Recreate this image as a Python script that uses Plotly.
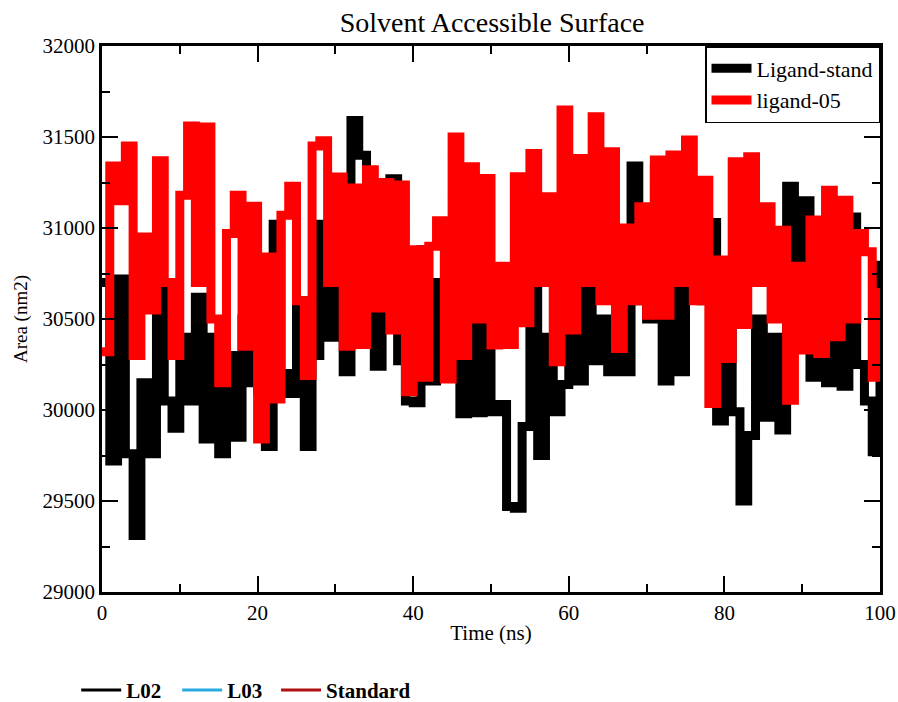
import plotly.graph_objects as go

time_ns = list(range(0, 101))

ligand_stand = [
    30700, 29720, 30720, 29760, 29310, 30150, 29760, 30660, 30050, 29900,
    30400, 30050, 30620, 29840, 30400, 29760, 30300, 29850, 30500, 30150,
    30110, 29800, 31020, 30200, 30090, 30600, 29800, 30300, 31020, 30400,
    31150, 30210, 31590, 31400, 30800, 30240, 30600, 31270, 30270, 30050,
    30040, 30880, 30160, 30700, 30500, 31020, 29980, 30600, 29985, 30600,
    29990, 30030, 29470, 29460, 29910, 30930, 29750, 30400, 29990, 30140,
    30600, 30160, 30900, 30270, 30500, 30210, 30320, 30210, 31340, 30600,
    30500, 31330, 30160, 30700, 30210, 30800, 31120, 30600, 31030, 29940,
    30500, 29990, 29500, 29860, 30500, 29960, 30400, 29890, 31230, 30500,
    31150, 30180, 30600, 30150, 30500, 30130, 31060, 30250, 30050, 29770,
    30820,
]

ligand_05 = [
    30320, 31340, 31150, 31450, 30300, 30950, 30550, 31370, 30700, 30300,
    31180, 31560, 30700, 31555, 30500, 30150, 30970, 31180, 30350, 31120,
    29840, 30840, 30060, 31070, 31230, 30600, 30190, 31450, 31480, 30700,
    31280, 30350, 31220, 30360, 31320, 30560, 31250, 30440, 31236, 30100,
    30880, 30180, 30900, 31040, 30170, 31500, 30300, 31337, 30500, 31272,
    30357, 30790, 30360, 31282, 30480, 31410, 30700, 31172, 30265, 31648,
    30440, 31382, 30700, 31611, 30600, 31419, 30338, 31000, 30600, 31117,
    30520, 31373, 30520, 31401, 30700, 31483, 30600, 31263, 30036, 30824,
    30283, 31364, 30470, 31392, 30700, 31117, 30500, 30988, 30054, 30790,
    30329, 31044, 30310, 31208, 30403, 31153, 30500, 30970, 30870, 30180,
    30670,
]

series_names = ["Ligand-stand", "ligand-05"]
series_colors = ["#000000", "#ff0000"]

outer_names = ["L02", "L03", "Standard"]
outer_colors = ["#000000", "#29abe2", "#b01010"]
outer_legends = ["legend2", "legend2", "legend3"]

x_ticks = [0, 20, 40, 60, 80, 100]
y_ticks = [29000, 29500, 30000, 30500, 31000, 31500, 32000]

SERIF = "Liberation Serif"
tick_font = dict(family=SERIF, size=21, color="black")

fig = go.Figure()
for name, col, ys in zip(series_names, series_colors, [ligand_stand, ligand_05]):
    fig.add_trace(go.Scatter(
        x=time_ns, y=ys, mode="lines", name=name,
        line=dict(color=col, width=9, shape="hv"),
        legend="legend",
    ))

for name, col, lg in zip(outer_names, outer_colors, outer_legends):
    fig.add_trace(go.Scatter(
        x=[None], y=[None], mode="lines", name=name,
        line=dict(color=col, width=3),
        legend=lg,
    ))

axis_common = dict(
    showgrid=False, zeroline=False, showline=True, linecolor="black",
    linewidth=2.5, mirror="ticks", ticks="inside", ticklen=16, tickwidth=1.5,
    tickcolor="black", automargin=False,
)

fig.update_xaxes(
    range=[0, 100], tickvals=x_ticks, ticktext=[str(v) for v in x_ticks],
    tickfont=tick_font,
    minor=dict(ticks="inside", ticklen=8, dtick=10, tickcolor="black", tickwidth=1.5),
    title=dict(text="Time (ns)", font=dict(family=SERIF, size=21, color="black"), standoff=2),
    **axis_common,
)
fig.update_yaxes(
    range=[29000, 32000], tickvals=y_ticks, ticktext=[str(v) for v in y_ticks],
    tickfont=tick_font,
    minor=dict(ticks="inside", ticklen=8, dtick=250, tickcolor="black", tickwidth=1.5),
    title=dict(text="Area (nm2)", font=dict(family=SERIF, size=19, color="black"), standoff=10),
    **axis_common,
)

fig.update_layout(
    width=898, height=702,
    margin=dict(l=102, r=18, t=46, b=110, autoexpand=False),
    paper_bgcolor="white", plot_bgcolor="white",
    title=dict(text="Solvent Accessible Surface", x=0.548, xanchor="center",
               y=0.969, yanchor="middle",
               font=dict(family=SERIF, size=28, color="black")),
    legend=dict(
        x=1, xanchor="right", y=1, yanchor="top",
        bgcolor="white", bordercolor="black", borderwidth=1.5,
        font=dict(family=SERIF, size=22, color="black"),
        tracegroupgap=0, itemwidth=40,
    ),
    legend2=dict(
        orientation="h", x=-0.0332, xanchor="left", y=-0.18, yanchor="middle",
        font=dict(family=SERIF, size=21, color="black", weight="bold"),
        entrywidth=46, itemwidth=40, bgcolor="rgba(0,0,0,0)",
    ),
    legend3=dict(
        orientation="h", x=0.2237, xanchor="left", y=-0.18, yanchor="middle",
        font=dict(family=SERIF, size=21, color="black", weight="bold"),
        itemwidth=40, bgcolor="rgba(0,0,0,0)",
    ),
    showlegend=True,
)

fig.write_html("out.html")
